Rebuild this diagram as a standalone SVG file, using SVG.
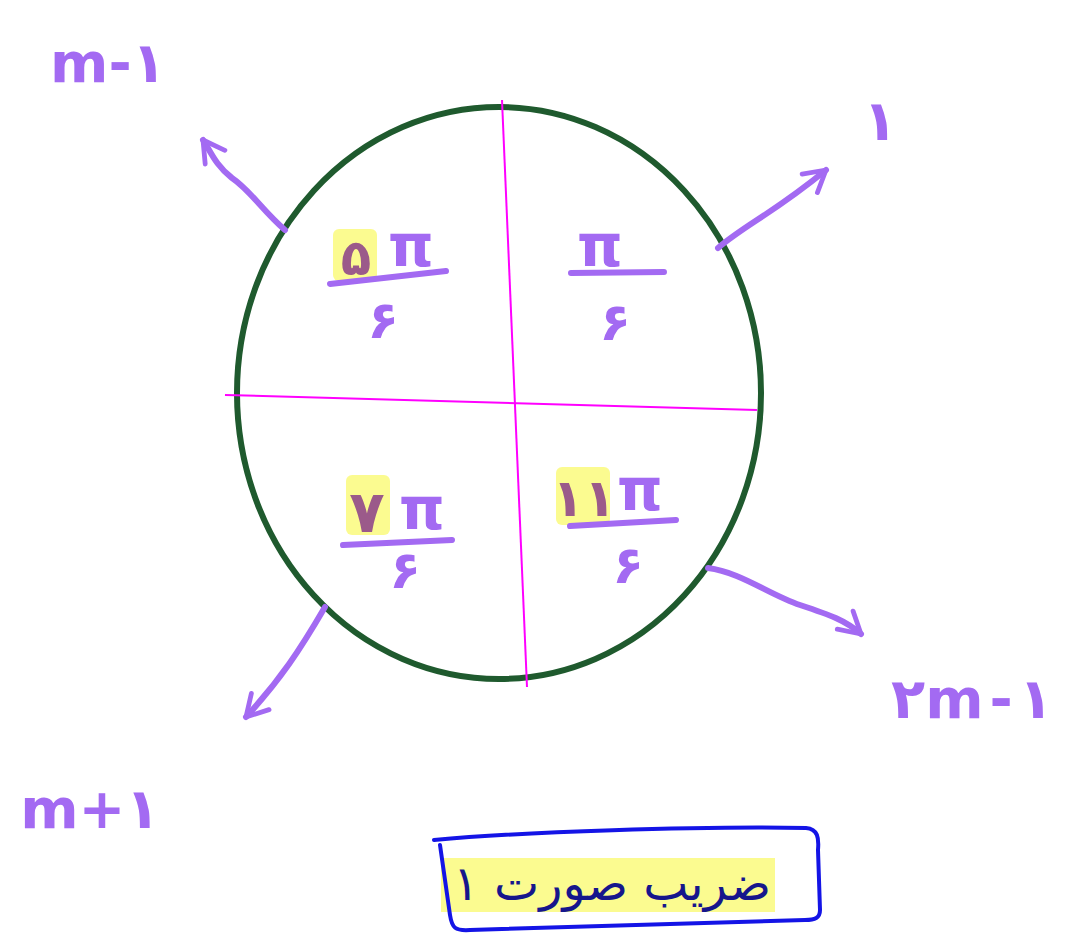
<svg xmlns="http://www.w3.org/2000/svg" width="1076" height="943" viewBox="0 0 1076 943">
<defs>
<style>
.pen{fill:none;stroke:#a36af2;stroke-width:6;stroke-linecap:round;stroke-linejoin:round}
.lbl{fill:#a36af2;font-family:"DejaVu Sans",sans-serif;font-weight:bold}
.hl{fill:#fbfb84;opacity:0.9}
.axis{stroke:#ff00ff;stroke-width:2;fill:none}
</style>
<marker id="ah" viewBox="0 0 10 10" refX="8" refY="5" markerWidth="5" markerHeight="5" orient="auto-start-reverse" markerUnits="strokeWidth">
<path d="M1,1 L8,5 L1,9" fill="none" stroke="#a36af2" stroke-width="1.6" stroke-linecap="round" stroke-linejoin="round"/>
</marker>
</defs>
<rect width="1076" height="943" fill="#ffffff"/>
<g id="circle">
<ellipse cx="499" cy="393" rx="262" ry="286" fill="none" stroke="#1f5a2e" stroke-width="6"/>
<line class="axis" x1="502" y1="100" x2="527" y2="687"/>
<line class="axis" x1="225" y1="395" x2="757" y2="410"/>
</g>
<g id="connectors">
<path class="pen" d="M718,248 C745,225 775,212 826,170" marker-end="url(#ah)"/>
<path class="pen" d="M285,230 C262,210 250,190 232,178 C215,165 210,150 203,140" marker-end="url(#ah)"/>
<path class="pen" d="M325,607 C300,650 280,680 246,717" marker-end="url(#ah)"/>
<path class="pen" d="M708,568 C740,572 770,595 800,605 C830,615 845,620 861,634" marker-end="url(#ah)"/>
</g>
<g id="q1">
<text class="lbl" x="600" y="266" font-size="58" text-anchor="middle">π</text>
<line class="pen" x1="571" y1="273" x2="664" y2="272"/>
<text class="lbl" x="615" y="340" font-size="52" text-anchor="middle">۶</text>
</g>
<g id="q2">
<rect class="hl" x="333" y="229" width="44" height="52" rx="6"/>
<text x="356" y="275" font-size="50" text-anchor="middle" font-family="DejaVu Sans,sans-serif" font-weight="bold" fill="#9b5a8a">۵</text>
<text class="lbl" x="411" y="266" font-size="58" text-anchor="middle">π</text>
<line class="pen" x1="330" y1="284" x2="446" y2="271"/>
<text class="lbl" x="383" y="338" font-size="52" text-anchor="middle">۶</text>
</g>
<g id="q3">
<rect class="hl" x="346" y="475" width="44" height="60" rx="6"/>
<text x="367" y="532" font-size="58" text-anchor="middle" font-family="DejaVu Sans,sans-serif" font-weight="bold" fill="#9b5a8a">۷</text>
<text class="lbl" x="422" y="529" font-size="58" text-anchor="middle">π</text>
<line class="pen" x1="343" y1="545" x2="452" y2="540"/>
<text class="lbl" x="405" y="588" font-size="52" text-anchor="middle">۶</text>
</g>
<g id="q4">
<rect class="hl" x="556" y="467" width="54" height="58" rx="6"/>
<text x="584" y="516" font-size="52" text-anchor="middle" font-family="DejaVu Sans,sans-serif" font-weight="bold" fill="#9b5a8a">۱۱</text>
<text class="lbl" x="640" y="510" font-size="58" text-anchor="middle">π</text>
<line class="pen" x1="570" y1="526" x2="676" y2="520"/>
<text class="lbl" x="628" y="583" font-size="52" text-anchor="middle">۶</text>
</g>
<g id="label-1">
<text class="lbl" x="880" y="140" font-size="56" text-anchor="middle">۱</text>
</g>
<g id="label-m-1">
<text class="lbl" x="108" y="82" font-size="56" text-anchor="middle">m-۱</text>
</g>
<g id="label-m+1">
<text class="lbl" x="90" y="828" font-size="56" text-anchor="middle">m+۱</text>
</g>
<g id="label-2m-1">
<text class="lbl" x="972" y="718" font-size="56" text-anchor="middle" letter-spacing="6">۲m-۱</text>
</g>
<g id="note">
<rect class="hl" x="441" y="858" width="334" height="54"/>
<path d="M434,840 C520,832 700,826 806,828 C818,829 819,838 818,850 L820,910 C820,918 815,920 805,920 L470,930 C455,931 452,928 450,915 L440,845" fill="none" stroke="#1414e6" stroke-width="4" stroke-linecap="round" stroke-linejoin="round"/>
<text x="612" y="900" font-size="48" text-anchor="middle" font-family="DejaVu Sans,sans-serif" fill="#16168c" direction="rtl">ضریب صورت ۱</text>
</g>
</svg>
